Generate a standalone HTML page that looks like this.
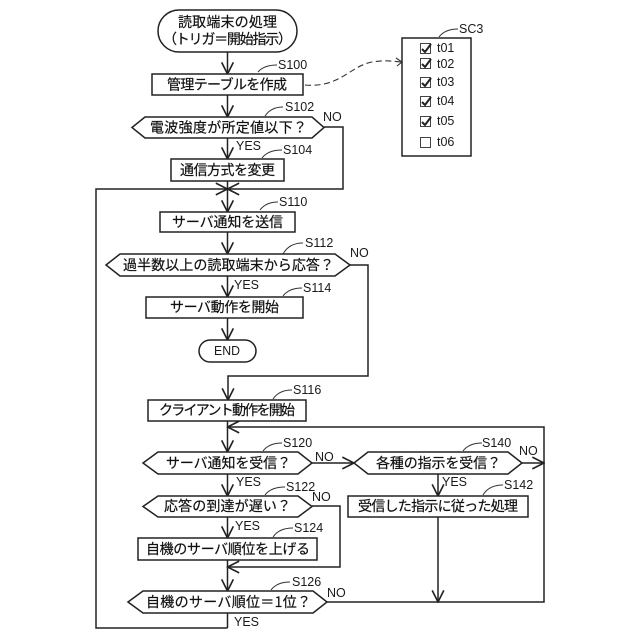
<!DOCTYPE html>
<html>
<head>
<meta charset="utf-8">
<style>
html,body{margin:0;padding:0;background:#fff}
svg{display:block}
.s{fill:#fff;stroke:#222;stroke-width:1.5}
.l{fill:none;stroke:#222;stroke-width:1.5}
.t{fill:none;stroke:#333;stroke-width:1}
.j{font-family:"Noto Sans CJK JP","Liberation Sans",sans-serif;font-size:14px;fill:#111;stroke:#111;stroke-width:.2;dominant-baseline:central}
.n{font-family:"Liberation Sans",sans-serif;font-size:12.5px;fill:#1a1a1a;dominant-baseline:central}
</style>
</head>
<body>
<svg width="640" height="640" viewBox="0 0 640 640" xmlns="http://www.w3.org/2000/svg">
<defs>
<marker id="a" markerUnits="userSpaceOnUse" markerWidth="14" markerHeight="14" refX="11" refY="6" orient="auto" viewBox="0 0 12 12">
<path d="M1,1 L11,6 L1,11" fill="none" stroke="#222" stroke-width="1.4"/>
</marker>
</defs>

<!-- connectors -->
<g class="l">
<path d="M227.5,52V74" marker-end="url(#a)"/>
<path d="M227.5,95V117" marker-end="url(#a)"/>
<path d="M227.5,138V159" marker-end="url(#a)"/>
<path d="M227.5,181V189"/>
<path d="M227.5,189V212" marker-end="url(#a)"/>
<path d="M324,127H343V189H227.5" marker-end="url(#a)"/>
<path d="M227.5,628H96V189H227.5" marker-end="url(#a)"/>
<path d="M227.5,232V254" marker-end="url(#a)"/>
<path d="M227.5,276V297" marker-end="url(#a)"/>
<path d="M227.5,318V340" marker-end="url(#a)"/>
<path d="M350,265H368V376H228V400" marker-end="url(#a)"/>
<path d="M227.5,421V452" marker-end="url(#a)"/>
<path d="M544,463V427H227.5" marker-end="url(#a)"/>
<path d="M227.5,474V496" marker-end="url(#a)"/>
<path d="M227.5,517V538" marker-end="url(#a)"/>
<path d="M227.5,560V591" marker-end="url(#a)"/>
<path d="M312,506H340V567H227.5" marker-end="url(#a)"/>
<path d="M227.5,613V628"/>
<path d="M312,463H354" marker-end="url(#a)"/>
<path d="M522,463H544" marker-end="url(#a)"/>
<path d="M438,474V496" marker-end="url(#a)"/>
<path d="M438,517V602" marker-end="url(#a)"/>
<path d="M327,602H544V463"/>
</g>

<!-- dashed link -->
<path d="M305,85 C340,88 350,66 372,62 C385,60 392,61 401,62" fill="none" stroke="#333" stroke-width="1.1" stroke-dasharray="6 3.5"/>
<path d="M396,58 L402,62 L397,66" fill="none" stroke="#333" stroke-width="1.1"/>

<!-- shapes -->
<rect class="s" x="158" y="10" width="139" height="42" rx="21" ry="21"/>
<rect class="s" x="152" y="74" width="151" height="21"/>
<polygon class="s" points="132,127.5 145,117 312,117 324,127.5 312,138 145,138"/>
<rect class="s" x="171" y="159" width="113" height="22"/>
<rect class="s" x="160" y="212" width="135" height="20"/>
<polygon class="s" points="106,265 120,254 335,254 350,265 335,276 120,276"/>
<rect class="s" x="146" y="297" width="157" height="21"/>
<rect class="s" x="199" y="340" width="57" height="22" rx="11" ry="11"/>
<rect class="s" x="148" y="400" width="158" height="21"/>
<polygon class="s" points="143,463 158,452 298,452 312,463 298,474 158,474"/>
<polygon class="s" points="354,463 368,452 508,452 522,463 508,474 368,474"/>
<polygon class="s" points="143,506.5 158,496 298,496 312,506.5 298,517 158,517"/>
<rect class="s" x="348" y="496" width="180" height="21"/>
<rect class="s" x="138" y="538" width="179" height="22"/>
<polygon class="s" points="128,602 143,591 313,591 327,602 313,613 143,613"/>

<!-- SC3 -->
<rect class="s" x="402" y="38" width="69" height="118"/>
<g fill="#fff" stroke="#444" stroke-width="1">
<rect x="420.5" y="43.5" width="10" height="10"/>
<rect x="420.5" y="58.5" width="10" height="10"/>
<rect x="420.5" y="77.5" width="10" height="10"/>
<rect x="420.5" y="96.5" width="10" height="10"/>
<rect x="420.5" y="116.5" width="10" height="10"/>
<rect x="420.5" y="137.5" width="10" height="10"/>
</g>
<g fill="none" stroke="#222" stroke-width="2">
<path d="M422,49 L425,52 L431,44"/>
<path d="M422,64 L425,67 L431,59"/>
<path d="M422,83 L425,86 L431,78"/>
<path d="M422,102 L425,105 L431,97"/>
<path d="M422,122 L425,125 L431,117"/>
</g>
<g class="n">
<text x="437" y="48">t01</text>
<text x="437" y="64">t02</text>
<text x="437" y="82">t03</text>
<text x="437" y="101">t04</text>
<text x="437" y="121">t05</text>
<text x="437" y="142">t06</text>
<text x="459" y="29">SC3</text>
</g>

<!-- leaders -->
<g class="t">
<path d="M258,72 Q264,65 277,65"/>
<path d="M265,116 Q271,107 283,107"/>
<path d="M262,158 Q268,150 282,150"/>
<path d="M260,210 Q266,202 278,202"/>
<path d="M283,254 Q289,243 303,243"/>
<path d="M283,296 Q289,288 302,288"/>
<path d="M273,399 Q279,390 292,390"/>
<path d="M263,451 Q269,443 282,443"/>
<path d="M265,495 Q271,487 285,487"/>
<path d="M273,537 Q279,528 293,528"/>
<path d="M271,590 Q277,582 290,582"/>
<path d="M463,451 Q469,443 482,443"/>
<path d="M483,495 Q489,485 503,485"/>
<path d="M439,37 Q445,29 458,29"/>
</g>

<!-- node text -->
<g class="j">
<text x="178" y="22" textLength="99" lengthAdjust="spacing">読取端末の処理</text>
<text x="163" y="39" textLength="129" lengthAdjust="spacing">&#xFF08;トリガ&#xFF1D;開始指示&#xFF09;</text>
<text x="167" y="84.5" textLength="120" lengthAdjust="spacing">管理テーブルを作成</text>
<text x="150" y="127.5" textLength="157" lengthAdjust="spacing">電波強度が所定値以下&#xFF1F;</text>
<text x="180" y="170" textLength="95" lengthAdjust="spacing">通信方式を変更</text>
<text x="172" y="222" textLength="111" lengthAdjust="spacing">サーバ通知を送信</text>
<text x="123" y="265" textLength="211" lengthAdjust="spacing">過半数以上の読取端末から応答&#xFF1F;</text>
<text x="170" y="307" textLength="109" lengthAdjust="spacing">サーバ動作を開始</text>
<text x="159" y="410" textLength="136" lengthAdjust="spacing">クライアント動作を開始</text>
<text x="166" y="463" textLength="125" lengthAdjust="spacing">サーバ通知を受信&#xFF1F;</text>
<text x="376" y="463" textLength="125" lengthAdjust="spacing">各種の指示を受信&#xFF1F;</text>
<text x="164" y="506" textLength="127" lengthAdjust="spacing">応答の到達が遅い&#xFF1F;</text>
<text x="358" y="506" textLength="160" lengthAdjust="spacing">受信した指示に従った処理</text>
<text x="146" y="549" textLength="164" lengthAdjust="spacing">自機のサーバ順位を上げる</text>
<text x="146" y="602" textLength="165" lengthAdjust="spacing">自機のサーバ順位&#xFF1D;1位&#xFF1F;</text>
</g>

<!-- step labels -->
<g class="n">
<text x="214" y="351" textLength="26" lengthAdjust="spacingAndGlyphs">END</text>
<text x="278" y="65">S100</text>
<text x="285" y="107">S102</text>
<text x="283" y="150">S104</text>
<text x="279" y="202">S110</text>
<text x="305" y="243">S112</text>
<text x="303" y="288">S114</text>
<text x="293" y="390">S116</text>
<text x="283" y="443">S120</text>
<text x="286" y="487">S122</text>
<text x="294" y="528">S124</text>
<text x="292" y="582">S126</text>
<text x="482" y="443">S140</text>
<text x="504" y="485">S142</text>
<text x="323" y="117">NO</text>
<text x="350" y="253">NO</text>
<text x="315" y="457">NO</text>
<text x="312" y="497">NO</text>
<text x="327" y="593">NO</text>
<text x="519" y="451">NO</text>
<text x="236" y="146">YES</text>
<text x="234" y="285">YES</text>
<text x="236" y="482">YES</text>
<text x="235" y="526">YES</text>
<text x="234" y="622">YES</text>
<text x="442" y="482">YES</text>
</g>
</svg>
</body>
</html>
